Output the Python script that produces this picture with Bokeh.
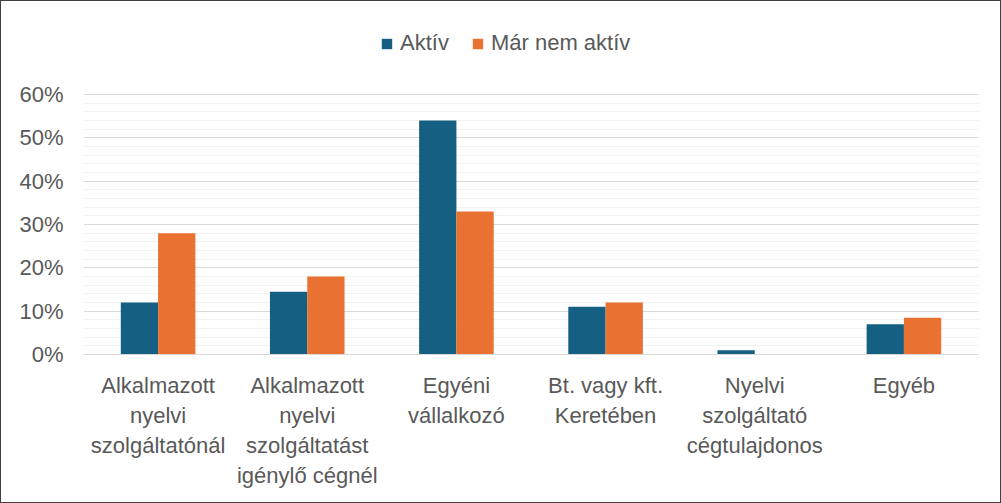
from bokeh.plotting import figure
from bokeh.models import (ColumnDataSource, FactorRange, Legend, LegendItem,
                          FixedTicker, PrintfTickFormatter, Range1d)
from bokeh.transform import dodge
from bokeh.embed import file_html
from bokeh.resources import INLINE

categories = [
    "Alkalmazott\nnyelvi\nszolgáltatónál",
    "Alkalmazott\nnyelvi\nszolgáltatást\nigénylő cégnél",
    "Egyéni\nvállalkozó",
    "Bt. vagy kft.\nKeretében",
    "Nyelvi\nszolgáltató\ncégtulajdonos",
    "Egyéb",
]
aktiv = [12, 14.5, 54, 11, 1, 7]
mar_nem_aktiv = [28, 18, 33, 12, 0, 8.5]
series_names = ["Aktív", "Már nem aktív"]
y_ticks = [0, 10, 20, 30, 40, 50, 60]
y_minor = list(range(0, 62, 2))

FONT = "Liberation Sans"
TXT = "#595959"

W, H = 1001, 503
TOP, BOTTOM, LEFT, RIGHT = 5, 150, 82, 24
frame_h = H - TOP - BOTTOM
y_max = 60 * frame_h / 260.0

src = ColumnDataSource(dict(cat=categories, a=aktiv, b=mar_nem_aktiv))

p = figure(x_range=FactorRange(*categories, range_padding=0), y_range=Range1d(0, y_max),
           width=W, height=H, output_backend="svg", toolbar_location=None,
           min_border_left=LEFT, min_border_right=RIGHT, min_border_bottom=BOTTOM,
           min_border_top=TOP)
p.styles = {"border": "1px solid #404040", "box-sizing": "border-box"}
p.outline_line_color = None

r1 = p.vbar(x=dodge("cat", -0.125, range=p.x_range), top="a", width=0.25, source=src,
            fill_color="#156082", line_color=None)
r2 = p.vbar(x=dodge("cat", 0.125, range=p.x_range), top="b", width=0.25, source=src,
            fill_color="#E97132", line_color=None)

legend = Legend(items=[LegendItem(label=series_names[0], renderers=[r1]),
                       LegendItem(label=series_names[1], renderers=[r2])],
                orientation="horizontal", location=(297, 298))
legend.label_text_font = FONT
legend.label_text_font_size = "22px"
legend.label_text_color = TXT
legend.glyph_width = 13
legend.glyph_height = 13
legend.label_standoff = 7
legend.spacing = 22
legend.border_line_color = None
legend.background_fill_alpha = 0
legend.padding = 4
legend.margin = 0
p.add_layout(legend, "center")

p.yaxis.ticker = FixedTicker(ticks=y_ticks, minor_ticks=y_minor)
p.yaxis.formatter = PrintfTickFormatter(format="%d%%")
p.yaxis.axis_line_color = None
p.yaxis.major_tick_line_color = None
p.yaxis.minor_tick_line_color = None
p.yaxis.major_label_text_font = FONT
p.yaxis.major_label_text_font_size = "22px"
p.yaxis.major_label_text_color = TXT
p.yaxis.major_label_standoff = 14

p.xaxis.axis_line_color = "#D9D9D9"
p.xaxis.axis_line_width = 1
p.xaxis.major_tick_line_color = None
p.xaxis.minor_tick_line_color = None
p.xaxis.major_label_text_font = FONT
p.xaxis.major_label_text_font_size = "22px"
p.xaxis.major_label_text_color = TXT
p.xaxis.major_label_standoff = 12
p.xaxis.major_label_text_line_height = 1.21

p.xgrid.grid_line_color = None
p.ygrid.grid_line_color = "#D9D9D9"
p.ygrid.minor_grid_line_color = "#F2F2F2"
p.ygrid.grid_line_width = 1

open("out.html", "w").write(file_html(p, INLINE))
